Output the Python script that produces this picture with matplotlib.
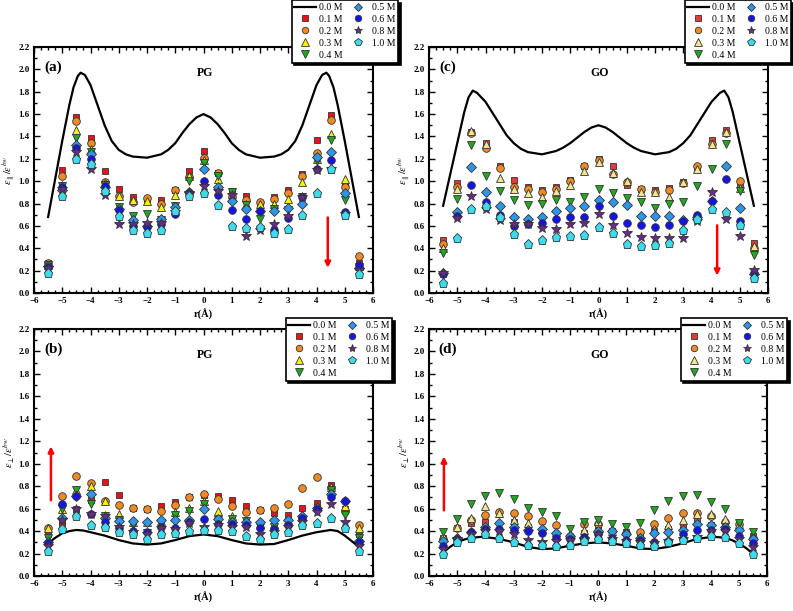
import matplotlib
matplotlib.use('Agg')
import matplotlib.pyplot as plt
from matplotlib.ticker import MultipleLocator
from matplotlib.lines import Line2D

plt.rcParams['font.family'] = ['Liberation Serif', 'DejaVu Serif']
plt.rcParams['mathtext.fontset'] = 'stix'

r = [-5.5, -5.0, -4.5, -4.0, -3.5, -3.0, -2.5, -2.0, -1.5, -1.0, -0.5, 0.0,
     0.5, 1.0, 1.5, 2.0, 2.5, 3.0, 3.5, 4.0, 4.5, 5.0, 5.5]
conc = ['0.1 M', '0.2 M', '0.3 M', '0.4 M', '0.5 M', '0.6 M', '0.8 M', '1.0 M']

# (a) PG, parallel
a_01 = [0.27, 1.10, 1.57, 1.39, 1.09, 0.93, 0.86, 0.84, 0.83, 0.92, 1.09, 1.27, 1.07, 0.91, 0.87, 0.80, 0.86, 0.92, 1.06, 1.37, 1.59, 0.97, 0.27]
a_02 = [0.27, 1.05, 1.54, 1.34, 0.99, 0.87, 0.81, 0.85, 0.80, 0.92, 1.04, 1.21, 1.07, 0.86, 0.83, 0.81, 0.84, 0.89, 1.05, 1.25, 1.55, 0.95, 0.33]
a_03 = [0.25, 0.97, 1.46, 1.29, 0.98, 0.87, 0.83, 0.82, 0.77, 0.88, 1.05, 1.19, 1.02, 0.85, 0.80, 0.80, 0.80, 0.84, 0.99, 1.20, 1.42, 1.02, 0.24]
a_04 = [0.25, 0.96, 1.39, 1.26, 0.97, 0.77, 0.69, 0.71, 0.65, 0.78, 1.00, 1.16, 1.05, 0.90, 0.79, 0.66, 0.75, 0.74, 0.86, 1.18, 1.37, 0.83, 0.23]
a_05 = [0.24, 0.92, 1.32, 1.24, 0.95, 0.75, 0.65, 0.60, 0.66, 0.77, 0.90, 1.11, 0.95, 0.82, 0.75, 0.73, 0.73, 0.76, 0.80, 1.22, 1.26, 0.89, 0.22]
a_06 = [0.23, 0.95, 1.30, 1.20, 0.96, 0.74, 0.60, 0.59, 0.62, 0.71, 0.89, 1.00, 0.88, 0.74, 0.66, 0.73, 0.56, 0.67, 0.86, 1.11, 1.19, 0.72, 0.25]
a_08 = [0.22, 0.93, 1.26, 1.11, 0.88, 0.62, 0.62, 0.63, 0.63, 0.72, 0.89, 0.96, 0.91, 0.88, 0.51, 0.56, 0.62, 0.69, 0.86, 1.10, 1.11, 0.71, 0.21]
a_10 = [0.18, 0.87, 1.20, 1.15, 0.91, 0.69, 0.56, 0.54, 0.56, 0.73, 0.87, 0.89, 0.79, 0.60, 0.58, 0.59, 0.54, 0.57, 0.70, 0.89, 1.11, 0.70, 0.17]
a_line_x = [-5.5, -5.25, -5.0, -4.75, -4.6, -4.45, -4.35, -4.2, -4.0, -3.75, -3.5, -3.25, -3.0, -2.75, -2.5, -2.0, -1.5, -1.25, -1.0, -0.75, -0.5, -0.25, 0.0,
            0.25, 0.5, 0.75, 1.0, 1.25, 1.5, 2.0, 2.5, 2.75, 3.0, 3.25, 3.5, 3.75, 4.0, 4.2, 4.35, 4.45, 4.6, 4.75, 5.0, 5.25, 5.5]
a_line_y = [0.68, 1.02, 1.36, 1.68, 1.84, 1.94, 1.97, 1.95, 1.86, 1.68, 1.50, 1.36, 1.28, 1.24, 1.22, 1.21, 1.24, 1.28, 1.34, 1.43, 1.51, 1.57, 1.60,
            1.57, 1.51, 1.43, 1.34, 1.28, 1.24, 1.21, 1.22, 1.24, 1.28, 1.36, 1.50, 1.68, 1.86, 1.95, 1.97, 1.94, 1.84, 1.68, 1.36, 1.02, 0.68]

# (b) PG, perpendicular
b_01 = [0.37, 0.47, 0.60, 0.68, 0.84, 0.72, 0.61, 0.60, 0.62, 0.66, 0.70, 0.72, 0.71, 0.68, 0.62, 0.59, 0.56, 0.54, 0.61, 0.65, 0.81, 0.60, 0.37]
b_02 = [0.43, 0.71, 0.89, 0.83, 0.67, 0.63, 0.61, 0.60, 0.58, 0.63, 0.70, 0.73, 0.69, 0.62, 0.57, 0.59, 0.61, 0.64, 0.78, 0.88, 0.78, 0.58, 0.45]
b_03 = [0.43, 0.60, 0.77, 0.80, 0.67, 0.55, 0.48, 0.48, 0.49, 0.57, 0.61, 0.67, 0.58, 0.53, 0.48, 0.46, 0.46, 0.50, 0.54, 0.62, 0.79, 0.62, 0.43]
b_04 = [0.34, 0.60, 0.77, 0.64, 0.53, 0.50, 0.45, 0.38, 0.47, 0.54, 0.58, 0.64, 0.50, 0.51, 0.49, 0.44, 0.44, 0.47, 0.50, 0.58, 0.77, 0.54, 0.34]
b_05 = [0.30, 0.52, 0.71, 0.73, 0.52, 0.49, 0.49, 0.48, 0.50, 0.50, 0.50, 0.60, 0.51, 0.48, 0.48, 0.48, 0.50, 0.50, 0.53, 0.61, 0.73, 0.67, 0.31]
b_06 = [0.29, 0.64, 0.71, 0.55, 0.48, 0.43, 0.40, 0.39, 0.44, 0.43, 0.48, 0.51, 0.46, 0.46, 0.45, 0.43, 0.42, 0.45, 0.52, 0.60, 0.70, 0.67, 0.30]
b_08 = [0.27, 0.50, 0.60, 0.55, 0.53, 0.44, 0.39, 0.37, 0.43, 0.42, 0.47, 0.44, 0.45, 0.44, 0.44, 0.37, 0.39, 0.44, 0.48, 0.57, 0.64, 0.48, 0.27]
b_10 = [0.22, 0.42, 0.53, 0.45, 0.44, 0.39, 0.37, 0.33, 0.37, 0.38, 0.40, 0.41, 0.41, 0.40, 0.36, 0.33, 0.37, 0.39, 0.45, 0.47, 0.52, 0.43, 0.22]
b_line_x = [-5.5, -5.25, -5.0, -4.75, -4.5, -4.25, -4.0, -3.5, -3.0, -2.5, -2.0, -1.5, -1.0, -0.5, 0.0,
            0.5, 1.0, 1.5, 2.0, 2.5, 3.0, 3.5, 4.0, 4.25, 4.5, 4.75, 5.0, 5.25, 5.5]
b_line_y = [0.29, 0.34, 0.38, 0.40, 0.41, 0.405, 0.39, 0.36, 0.32, 0.29, 0.28, 0.29, 0.32, 0.355, 0.37,
            0.355, 0.32, 0.29, 0.28, 0.285, 0.32, 0.36, 0.39, 0.40, 0.41, 0.40, 0.36, 0.31, 0.26]

# (c) GO, parallel
c_01 = [0.47, 0.98, 1.44, 1.34, 1.14, 1.01, 0.95, 0.92, 0.95, 1.01, 1.14, 1.20, 1.14, 0.97, 0.93, 0.92, 0.94, 0.99, 1.13, 1.37, 1.46, 0.95, 0.45]
c_02 = [0.44, 0.95, 1.43, 1.30, 1.12, 0.95, 0.93, 0.90, 0.93, 1.00, 1.14, 1.19, 1.06, 0.99, 0.93, 0.90, 0.92, 0.98, 1.14, 1.33, 1.43, 1.00, 0.40]
c_03 = [0.40, 0.93, 1.45, 1.33, 1.03, 0.93, 0.89, 0.86, 0.91, 0.97, 1.09, 1.17, 1.07, 1.00, 0.90, 0.90, 0.86, 0.99, 1.11, 1.33, 1.44, 0.94, 0.42]
c_04 = [0.36, 0.84, 1.32, 1.05, 0.91, 0.83, 0.79, 0.80, 0.83, 0.81, 0.86, 0.93, 0.89, 0.85, 0.81, 0.76, 0.80, 0.81, 0.96, 1.11, 1.33, 0.91, 0.34]
c_05 = [0.18, 0.72, 1.13, 0.90, 0.78, 0.68, 0.66, 0.68, 0.73, 0.76, 0.78, 0.83, 0.81, 0.79, 0.69, 0.69, 0.69, 0.65, 0.68, 0.82, 1.14, 0.76, 0.17]
c_06 = [0.17, 0.69, 0.97, 0.81, 0.70, 0.60, 0.62, 0.63, 0.66, 0.68, 0.68, 0.78, 0.69, 0.63, 0.61, 0.59, 0.61, 0.64, 0.70, 0.82, 1.02, 0.64, 0.18]
c_08 = [0.18, 0.67, 0.87, 0.75, 0.65, 0.62, 0.62, 0.58, 0.57, 0.62, 0.63, 0.71, 0.61, 0.54, 0.50, 0.49, 0.49, 0.49, 0.64, 0.90, 0.66, 0.51, 0.21]
c_10 = [0.09, 0.49, 0.75, 0.78, 0.68, 0.53, 0.44, 0.47, 0.50, 0.51, 0.52, 0.59, 0.54, 0.44, 0.42, 0.43, 0.45, 0.56, 0.66, 0.75, 0.72, 0.61, 0.13]
c_line_x = [-5.5, -5.25, -5.0, -4.75, -4.6, -4.45, -4.3, -4.0, -3.75, -3.5, -3.25, -3.0, -2.75, -2.5, -2.0, -1.5, -1.25, -1.0, -0.75, -0.5, -0.25, 0.0,
            0.25, 0.5, 0.75, 1.0, 1.25, 1.5, 2.0, 2.5, 2.75, 3.0, 3.25, 3.5, 3.75, 4.0, 4.3, 4.45, 4.6, 4.75, 5.0, 5.25, 5.5]
c_line_y = [0.78, 1.06, 1.34, 1.62, 1.75, 1.81, 1.79, 1.71, 1.61, 1.51, 1.41, 1.34, 1.29, 1.26, 1.24, 1.27, 1.30, 1.34, 1.39, 1.44, 1.48, 1.50,
            1.48, 1.44, 1.39, 1.34, 1.30, 1.27, 1.24, 1.26, 1.29, 1.34, 1.41, 1.51, 1.61, 1.71, 1.79, 1.81, 1.75, 1.62, 1.34, 1.06, 0.78]

# (d) GO, perpendicular
d_01 = [0.34, 0.43, 0.47, 0.48, 0.55, 0.48, 0.44, 0.41, 0.35, 0.34, 0.38, 0.44, 0.40, 0.39, 0.36, 0.40, 0.42, 0.45, 0.50, 0.45, 0.45, 0.44, 0.36]
d_02 = [0.33, 0.43, 0.50, 0.54, 0.57, 0.56, 0.53, 0.49, 0.45, 0.36, 0.46, 0.46, 0.40, 0.38, 0.39, 0.46, 0.52, 0.56, 0.56, 0.53, 0.48, 0.46, 0.34]
d_03 = [0.36, 0.44, 0.52, 0.62, 0.56, 0.50, 0.47, 0.42, 0.39, 0.37, 0.41, 0.49, 0.40, 0.40, 0.35, 0.42, 0.45, 0.50, 0.55, 0.55, 0.51, 0.46, 0.36]
d_04 = [0.39, 0.51, 0.64, 0.71, 0.74, 0.69, 0.61, 0.57, 0.53, 0.42, 0.48, 0.50, 0.46, 0.44, 0.47, 0.59, 0.67, 0.71, 0.72, 0.66, 0.60, 0.47, 0.39]
d_05 = [0.31, 0.34, 0.39, 0.44, 0.47, 0.44, 0.41, 0.42, 0.38, 0.36, 0.34, 0.40, 0.40, 0.37, 0.34, 0.38, 0.39, 0.41, 0.46, 0.45, 0.44, 0.41, 0.33]
d_06 = [0.27, 0.33, 0.39, 0.42, 0.42, 0.41, 0.40, 0.38, 0.34, 0.33, 0.35, 0.37, 0.34, 0.32, 0.32, 0.30, 0.31, 0.37, 0.41, 0.41, 0.42, 0.36, 0.29]
d_08 = [0.24, 0.33, 0.37, 0.40, 0.40, 0.37, 0.32, 0.30, 0.31, 0.32, 0.33, 0.37, 0.33, 0.31, 0.30, 0.29, 0.31, 0.33, 0.35, 0.40, 0.40, 0.33, 0.26]
d_10 = [0.20, 0.30, 0.34, 0.37, 0.34, 0.30, 0.28, 0.28, 0.27, 0.28, 0.31, 0.33, 0.31, 0.29, 0.28, 0.27, 0.30, 0.32, 0.34, 0.36, 0.35, 0.29, 0.20]
d_line_x = [-5.5, -5.25, -5.0, -4.75, -4.5, -4.1, -3.5, -3.0, -2.5, -2.0, -1.5, -1.0, -0.5, 0.0,
            0.5, 1.0, 1.5, 2.0, 2.5, 3.0, 3.5, 4.1, 4.5, 4.75, 5.0, 5.25, 5.5]
d_line_y = [0.21, 0.26, 0.30, 0.325, 0.34, 0.35, 0.33, 0.30, 0.26, 0.24, 0.245, 0.27, 0.29, 0.30,
            0.29, 0.27, 0.245, 0.24, 0.26, 0.29, 0.33, 0.35, 0.34, 0.32, 0.29, 0.25, 0.20]

markers = ['s', 'o', '^', 'v', 'D', 'o', '*', 'p']
sizes = [5, 5.5, 6, 6, 4.6, 5.5, 7, 6.5]
colors_pg = ['#e3141c', '#f08a24', '#f7f20a', '#21a821', '#2e96e6', '#1414e6', '#6a2a8c', '#3ddcec']
colors_go = ['#e23a3a', '#f08a24', '#f3e58e', '#21a821', '#2e96e6', '#1414e6', '#6a2a8c', '#3ddcec']

panels = [
    ('(a)', 'PG', [a_01, a_02, a_03, a_04, a_05, a_06, a_08, a_10], a_line_x, a_line_y, colors_pg,
     [34, 47, 339, 246], r'$\varepsilon_{\parallel}/\varepsilon^{bw}$', (4.4, 0.70, 0.20), (398, 0)),
    ('(c)', 'GO', [c_01, c_02, c_03, c_04, c_05, c_06, c_08, c_10], c_line_x, c_line_y, colors_go,
     [429, 47, 339, 246], r'$\varepsilon_{\parallel}/\varepsilon^{bw}$', (4.2, 0.63, 0.13), (791, 0)),
    ('(b)', 'PG', [b_01, b_02, b_03, b_04, b_05, b_06, b_08, b_10], b_line_x, b_line_y, colors_pg,
     [34, 329, 339, 247], r'$\varepsilon_{\perp}/\varepsilon^{bw}$', (-5.4, 0.65, 1.18), (392, 318)),
    ('(d)', 'GO', [d_01, d_02, d_03, d_04, d_05, d_06, d_08, d_10], d_line_x, d_line_y, colors_go,
     [429, 329, 338, 247], r'$\varepsilon_{\perp}/\varepsilon^{bw}$', (-5.47, 0.56, 1.09), (787, 318)),
]

W, H = 793, 611
fig = plt.figure(figsize=(W / 100, H / 100), dpi=100)

for tag, name, series, lx, ly, cols, box, ylab, arr, legpos in panels:
    l, t, w, h = box
    ax = fig.add_axes([l / W, 1 - (t + h) / H, w / W, h / H])
    ax.plot(lx, ly, color='black', lw=1.6, zorder=2)
    for ys, m, s, c in zip(series, markers, sizes, cols):
        ax.plot(r, ys, ls='none', marker=m, ms=s, mfc=c, mec='#333333', mew=0.6, zorder=3)
    ax.set_xlim(-6, 6)
    ax.set_ylim(0, 2.2)
    ax.xaxis.set_major_locator(MultipleLocator(1))
    ax.xaxis.set_minor_locator(MultipleLocator(0.25))
    ax.yaxis.set_major_locator(MultipleLocator(0.2))
    ax.yaxis.set_minor_locator(MultipleLocator(0.1))
    ax.yaxis.set_major_formatter('{x:.1f}')
    ax.tick_params(which='both', direction='in', top=True, right=True, width=1)
    ax.tick_params(which='major', length=4, labelsize=6.5, pad=3)
    ax.tick_params(which='minor', length=2)
    for lab in ax.get_xticklabels() + ax.get_yticklabels():
        lab.set_fontweight('bold')
    for sp in ax.spines.values():
        sp.set_linewidth(1.5)
    ax.set_xlabel('r(Å)', fontsize=7.5, fontweight='bold', labelpad=3)
    ax.set_ylabel(ylab, fontsize=7.5)
    ax.yaxis.set_label_coords(-0.05, 0.5)
    ax.text(-5.65, 2.02, tag, fontsize=11, fontweight='bold', va='center', ha='left')
    ax.text(0.05, 1.97, name, fontsize=8.5, fontweight='bold', va='center', ha='center')
    ax.annotate('', xy=(arr[0], arr[2]), xytext=(arr[0], arr[1]),
                arrowprops=dict(arrowstyle='-|>', color='red', lw=1.8, mutation_scale=8))

    handles = [Line2D([], [], color='black', lw=1.6)]
    for m, s, c in zip(markers, sizes, cols):
        handles.append(Line2D([], [], ls='none', marker=m, ms=s * 0.85, mfc=c, mec='#333333', mew=0.6))
    labels = ['0.0 M'] + conc
    leg = ax.legend(handles, labels, ncol=2, loc='upper right',
                    bbox_to_anchor=(legpos[0] / W, 1 - legpos[1] / H), bbox_transform=fig.transFigure,
                    fontsize=7, frameon=True, fancybox=False, shadow={'color': 'black', 'alpha': 1},
                    handlelength=2.2, handletextpad=0.3, columnspacing=0.5, labelspacing=0.3,
                    borderpad=0.3, borderaxespad=0)
    leg.get_frame().set_edgecolor('black')
    leg.get_frame().set_linewidth(1.2)
    leg.set_zorder(10)

fig.savefig('out.png', dpi=100)
